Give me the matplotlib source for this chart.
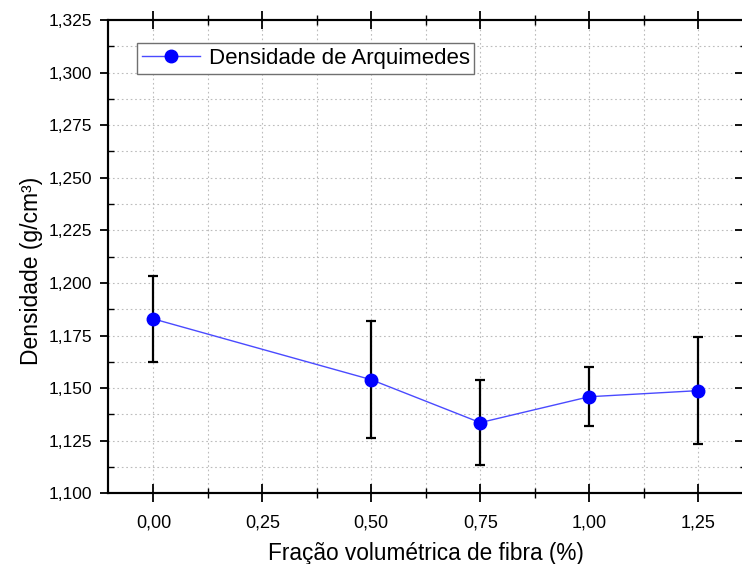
import matplotlib

matplotlib.use("Agg")
import matplotlib.pyplot as plt
import numpy as np
from matplotlib.ticker import FixedLocator, FuncFormatter, MultipleLocator

# Fiber volume fraction (%) vs. Archimedes density (g/cm3)
fracao = [0.00, 0.50, 0.75, 1.00, 1.25]
densidade = [1.1829, 1.1540, 1.1336, 1.1459, 1.1488]
desvio = [0.0205, 0.0279, 0.0202, 0.0141, 0.0254]

x_ticks = [0.00, 0.25, 0.50, 0.75, 1.00, 1.25]
y_ticks = [1.100, 1.125, 1.150, 1.175, 1.200, 1.225, 1.250, 1.275, 1.300, 1.325]

plt.rcParams["font.family"] = ["Liberation Sans", "DejaVu Sans"]

W, H = 742, 564
fig = plt.figure(figsize=(W / 100, H / 100), dpi=100)
left, right, top, bottom = 107.7, 743.8, 20.0, 493.3
ax = fig.add_axes([left / W, 1 - bottom / H, (right - left) / W, (bottom - top) / H])

ax.set_xlim(-0.105, 1.355)
ax.set_ylim(1.100, 1.325)

# grid at every major and minor position
for gx in np.arange(-0.125, 1.40, 0.125):
    ax.axvline(gx, color="#bcbcbc", lw=0.8, ls=(0, (1.5, 2.5)), zorder=0)
for gy in np.arange(1.1125, 1.325, 0.0125):
    ax.axhline(gy, color="#bcbcbc", lw=0.8, ls=(0, (1.5, 2.5)), zorder=0)

ax.errorbar(
    fracao, densidade, yerr=desvio,
    fmt="none", ecolor="black", elinewidth=1.6, capsize=3.8, capthick=1.6, zorder=3,
)
ax.plot(
    fracao, densidade, color="#4a4aff", lw=1.0,
    marker="o", markersize=9, markerfacecolor="#0000ff", markeredgecolor="#0000ff",
    label="Densidade de Arquimedes", zorder=4,
)

comma = FuncFormatter(lambda v, _: f"{v:.2f}".replace(".", ","))
comma3 = FuncFormatter(lambda v, _: f"{v:.3f}".replace(".", ","))

ax.xaxis.set_major_locator(FixedLocator(x_ticks))
ax.xaxis.set_minor_locator(MultipleLocator(0.125))
ax.yaxis.set_major_locator(FixedLocator(y_ticks))
ax.yaxis.set_minor_locator(MultipleLocator(0.0125))
ax.xaxis.set_major_formatter(comma)
ax.yaxis.set_major_formatter(comma3)

ax.tick_params(axis="x", which="major", direction="inout", length=13, width=1.3,
               top=True, bottom=True, labelsize=13, pad=9)
ax.tick_params(axis="x", which="minor", direction="inout", length=7, width=1.0,
               top=True, bottom=True)
ax.tick_params(axis="y", which="major", direction="out", length=6, width=1.3,
               left=True, right=False, labelsize=12.5, pad=5)
ax.tick_params(axis="y", which="minor", direction="in", length=4, width=1.0,
               left=True, right=False)

# right-hand ticks point inward
ax_r = ax.twinx()
ax_r.set_ylim(ax.get_ylim())
ax_r.yaxis.set_major_locator(FixedLocator(y_ticks))
ax_r.yaxis.set_minor_locator(MultipleLocator(0.0125))
ax_r.tick_params(axis="y", which="major", direction="in", length=6.5, width=1.3, labelright=False)
ax_r.tick_params(axis="y", which="minor", direction="in", length=3, width=1.0)

for a in (ax, ax_r):
    for spine in a.spines.values():
        spine.set_linewidth(1.5)
        spine.set_color("black")

ax.set_xlabel("Fração volumétrica de fibra (%)", fontsize=16.3, labelpad=7)
ax.set_ylabel("Densidade (g/cm³)", fontsize=16.5)
ax.yaxis.set_label_coords(-0.102, 0.47)

leg = ax.legend(
    loc="upper left", bbox_to_anchor=(0.046, 0.951), fontsize=16,
    frameon=True, fancybox=False, shadow=False, framealpha=1.0,
    edgecolor="#707070", handlelength=2.6, handletextpad=0.4,
    borderpad=0.22, borderaxespad=0.0,
)
leg.get_frame().set_linewidth(1.0)
leg.set_zorder(10)

fig.savefig("out.png", dpi=100)
